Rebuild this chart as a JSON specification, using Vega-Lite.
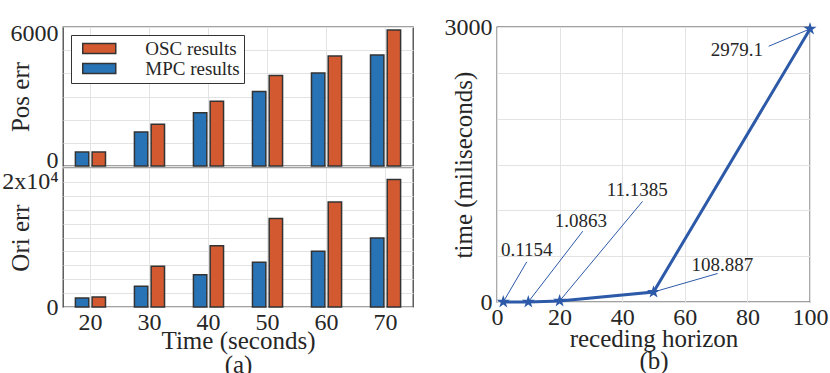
{
  "$schema": "https://vega.github.io/schema/vega-lite/v6.json",
  "padding": {"left": 0, "top": 14, "right": 0, "bottom": 0},
  "datasets": {
    "bars": [
      {"time": 20, "series": "MPC results", "pos": 600, "ori": 1440},
      {"time": 20, "series": "OSC results", "pos": 600, "ori": 1600},
      {"time": 30, "series": "MPC results", "pos": 1470, "ori": 3300},
      {"time": 30, "series": "OSC results", "pos": 1800, "ori": 6500},
      {"time": 40, "series": "MPC results", "pos": 2300, "ori": 5170},
      {"time": 40, "series": "OSC results", "pos": 2790, "ori": 9810},
      {"time": 50, "series": "MPC results", "pos": 3220, "ori": 7150},
      {"time": 50, "series": "OSC results", "pos": 3910, "ori": 14130},
      {"time": 60, "series": "MPC results", "pos": 4010, "ori": 8910},
      {"time": 60, "series": "OSC results", "pos": 4750, "ori": 16800},
      {"time": 70, "series": "MPC results", "pos": 4790, "ori": 11040},
      {"time": 70, "series": "OSC results", "pos": 5870, "ori": 20370}
    ],
    "timing": [
      {"h": 2, "t": 0.1154, "label": "0.1154", "lx": 9.5, "ly": 438, "tx": 9.5, "ty": 568},
      {"h": 10, "t": 1.0863, "label": "1.0863", "lx": 27.4, "ly": 772, "tx": 26.8, "ty": 880},
      {"h": 20, "t": 11.1385, "label": "11.1385", "lx": 46.5, "ly": 1098, "tx": 44.8, "ty": 1224},
      {"h": 50, "t": 108.887, "label": "108.887", "lx": 70.5, "ly": 311, "tx": 72, "ty": 405},
      {"h": 100, "t": 2979.1, "label": "2979.1", "lx": 86.8, "ly": 2790, "tx": 76.6, "ty": 2746}
    ]
  },
  "hconcat": [
    {
      "vconcat": [
        {
          "data": {"name": "bars"},
          "width": 350,
          "height": 139,
          "mark": {"type": "bar", "stroke": "#333333", "strokeWidth": 1.5},
          "encoding": {
            "x": {
              "field": "time", "type": "ordinal",
              "scale": {"paddingInner": 0.49, "paddingOuter": 0.21},
              "axis": {"labels": false, "title": null, "grid": true, "bandPosition": 0.5}
            },
            "xOffset": {"field": "series", "sort": ["MPC results", "OSC results"], "scale": {"paddingInner": 0.2}},
            "y": {
              "field": "pos", "type": "quantitative",
              "scale": {"domain": [0, 6000], "nice": false},
              "axis": {
                "values": [0, 1000, 2000, 3000, 4000, 5000, 6000],
                "format": "d", "labelFlush": true, "labelFlushOffset": 6,
                "labelExpr": "datum.value == 0 || datum.value == 6000 ? datum.label : ''",
                "title": "Pos err",
                "titleX": -43, "titleY": 69.5, "titleBaseline": "middle"
              }
            },
            "color": {
              "field": "series", "type": "nominal",
              "scale": {"domain": ["OSC results", "MPC results"], "range": ["#D35A30", "#2873B5"]},
              "legend": {
                "title": null, "orient": "none", "legendX": 8, "legendY": 8,
                "strokeColor": "#333333", "fillColor": "white", "padding": 4,
                "symbolType": "M-3.3,-1H3.3V1H-3.3Z", "symbolSize": 100,
                "symbolStrokeColor": "#333333", "symbolStrokeWidth": 1.5, "symbolOffset": 14.75,
                "labelFontSize": 19, "labelOffset": 36.5, "rowPadding": 0,
                "labelExpr": "datum.label + '  '"
              }
            }
          }
        },
        {
          "data": {"name": "bars"},
          "width": 350,
          "height": 139,
          "mark": {"type": "bar", "stroke": "#333333", "strokeWidth": 1.5},
          "encoding": {
            "x": {
              "field": "time", "type": "ordinal",
              "scale": {"paddingInner": 0.49, "paddingOuter": 0.21},
              "axis": {
                "labelAngle": 0, "grid": true, "bandPosition": 0.5, "labelPadding": 3,
                "title": ["Time (seconds)", "(a)"], "titleBaseline": "alphabetic", "titleY": 41, "titleLineHeight": 24
              }
            },
            "xOffset": {"field": "series", "sort": ["MPC results", "OSC results"], "scale": {"paddingInner": 0.2}},
            "y": {
              "field": "ori", "type": "quantitative",
              "scale": {"domain": [0, 22222.222], "nice": false},
              "axis": {
                "values": [0, 2222.222, 4444.444, 6666.667, 8888.889, 11111.111, 13333.333, 15555.556, 17777.778, 20000, 22222.222],
                "labelFlush": false,
                "labelExpr": "datum.value == 0 ? '0' : (abs(datum.value - 20000) < 1 ? '2x10⁴' : '')",
                "title": "Ori err",
                "titleX": -43, "titleY": 69.5, "titleBaseline": "middle"
              }
            },
            "color": {
              "field": "series", "type": "nominal",
              "scale": {"domain": ["OSC results", "MPC results"], "range": ["#D35A30", "#2873B5"]},
              "legend": null
            }
          }
        }
      ],
      "spacing": 2,
      "bounds": "flush"
    },
    {
      "data": {"name": "timing"},
      "width": 313,
      "height": 275,
      "encoding": {
        "x": {
          "field": "h", "type": "quantitative",
          "scale": {"domain": [0, 100], "nice": false},
          "axis": {
            "values": [0, 20, 40, 60, 80, 100], "labelPadding": 3, "labelFlush": false,
            "title": ["receding horizon", "(b)"], "titleBaseline": "alphabetic", "titleY": 44, "titleLineHeight": 22
          }
        },
        "y": {
          "field": "t", "type": "quantitative",
          "scale": {"domain": [0, 3000], "nice": false},
          "axis": {
            "values": [0, 500, 1000, 1500, 2000, 2500, 3000],
            "format": "d", "labelFlush": false,
            "labelExpr": "datum.value == 0 || datum.value == 3000 ? datum.label : ''",
            "title": "time (miliseconds)",
            "titleX": -34, "titleY": 137.5, "titleBaseline": "middle"
          }
        }
      },
      "layer": [
        {
          "mark": {"type": "rule", "color": "#2C59A8", "strokeWidth": 1},
          "encoding": {"x2": {"field": "lx"}, "y2": {"field": "ly"}}
        },
        {
          "mark": {"type": "line", "color": "#2C59A8", "strokeWidth": 3},
          "encoding": {}
        },
        {
          "mark": {
            "type": "point", "filled": true, "size": 190, "color": "#2C59A8", "opacity": 1,
            "shape": "M0,-1L0.2245,-0.309L0.9511,-0.309L0.3633,0.118L0.5878,0.809L0,0.382L-0.5878,0.809L-0.3633,0.118L-0.9511,-0.309L-0.2245,-0.309Z"
          }
        },
        {
          "mark": {"type": "text", "fontSize": 19, "color": "#262626", "align": "center", "baseline": "middle"},
          "encoding": {
            "x": {"field": "tx", "type": "quantitative"},
            "y": {"field": "ty", "type": "quantitative"},
            "text": {"field": "label"}
          }
        }
      ]
    }
  ],
  "spacing": 29,
  "config": {
    "font": "Liberation Serif",
    "view": {"stroke": "#444444", "strokeWidth": 1.3},
    "axis": {
      "labelFontSize": 24, "titleFontSize": 25, "titleFontWeight": "normal",
      "labelColor": "#262626", "titleColor": "#262626",
      "gridColor": "#e3e3e3", "gridWidth": 1,
      "domain": false, "ticks": false,
      "labelPadding": 5
    },
    "legend": {"labelColor": "#262626"}
  }
}
